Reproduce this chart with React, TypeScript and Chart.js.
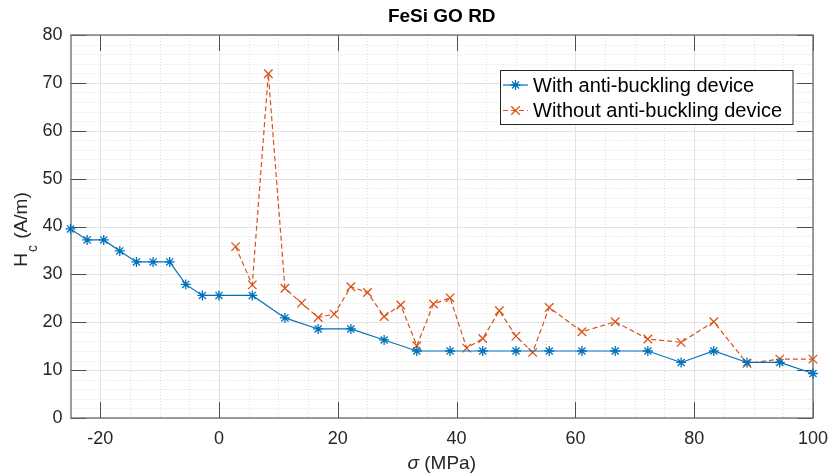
import React, { useEffect, useRef } from "react";
import { Chart, registerables } from "chart.js";

Chart.register(...registerables);

const titleText = "FeSi GO RD";
const seriesNames = ["With anti-buckling device", "Without anti-buckling device"];
const xTickValues = [-20, 0, 20, 40, 60, 80, 100];
const yTickValues = [0, 10, 20, 30, 40, 50, 60, 70, 80];

const withX = [-25, -22.2, -19.4, -16.7, -13.9, -11.1, -8.3, -5.6, -2.8, 0, 5.6, 11.1, 16.7, 22.2, 27.8, 33.3, 38.9, 44.4, 50, 55.6, 61.1, 66.7, 72.2, 77.8, 83.3, 88.9, 94.4, 100];
const withY = [39.5, 37.2, 37.2, 34.9, 32.6, 32.6, 32.6, 27.9, 25.6, 25.6, 25.6, 20.9, 18.6, 18.6, 16.3, 14.0, 14.0, 14.0, 14.0, 14.0, 14.0, 14.0, 14.0, 11.6, 14.0, 11.6, 11.6, 9.3];

const withoutX = [2.8, 5.6, 8.3, 11.1, 13.9, 16.7, 19.4, 22.2, 25, 27.8, 30.6, 33.3, 36.1, 38.9, 41.7, 44.4, 47.2, 50, 52.8, 55.6, 61.1, 66.7, 72.2, 77.8, 83.3, 88.9, 94.4, 100];
const withoutY = [35.8, 27.8, 71.9, 27.1, 24.0, 21.0, 21.7, 27.4, 26.2, 21.2, 23.6, 15.1, 23.8, 25.1, 14.6, 16.6, 22.4, 17.1, 13.7, 23.1, 18.0, 20.1, 16.5, 15.8, 20.1, 11.4, 12.3, 12.3];

const FONT = '"Liberation Sans", Arial, Helvetica, sans-serif';
const BLUE = "#0072BD";
const ORANGE = "#D95319";
const TEXT = "#262626";

function drawAsterisk(ctx: CanvasRenderingContext2D, x: number, y: number, r: number) {
  const d = r * Math.SQRT1_2;
  ctx.beginPath();
  ctx.moveTo(x - r, y); ctx.lineTo(x + r, y);
  ctx.moveTo(x, y - r); ctx.lineTo(x, y + r);
  ctx.moveTo(x - d, y - d); ctx.lineTo(x + d, y + d);
  ctx.moveTo(x - d, y + d); ctx.lineTo(x + d, y - d);
  ctx.stroke();
}
function drawX(ctx: CanvasRenderingContext2D, x: number, y: number, r: number) {
  const d = r * Math.SQRT1_2;
  ctx.beginPath();
  ctx.moveTo(x - d, y - d); ctx.lineTo(x + d, y + d);
  ctx.moveTo(x - d, y + d); ctx.lineTo(x + d, y - d);
  ctx.stroke();
}

const matlabPlugin = {
  id: "matlabAxes",
  beforeDatasetsDraw(chart: any) {
    const { ctx, chartArea: a, scales } = chart;
    const xs = scales.x, ys = scales.y;
    ctx.save();
    ctx.lineWidth = 1;
    // minor grid
    ctx.setLineDash([1, 2]);
    ctx.strokeStyle = "rgba(0,0,0,0.12)";
    for (let v = -20; v < 100; v += 5) {
      if (v % 20 === 0) continue;
      const px = Math.round(xs.getPixelForValue(v)) + 0.5;
      ctx.beginPath(); ctx.moveTo(px, a.top); ctx.lineTo(px, a.bottom); ctx.stroke();
    }
    for (let v = 2; v < 80; v += 2) {
      if (v % 10 === 0) continue;
      const py = Math.round(ys.getPixelForValue(v)) + 0.5;
      ctx.beginPath(); ctx.moveTo(a.left, py); ctx.lineTo(a.right, py); ctx.stroke();
    }
    // major grid
    ctx.setLineDash([]);
    ctx.strokeStyle = "#e2e2e2";
    for (const v of xTickValues) {
      const px = Math.round(xs.getPixelForValue(v)) + 0.5;
      ctx.beginPath(); ctx.moveTo(px, a.top); ctx.lineTo(px, a.bottom); ctx.stroke();
    }
    for (const v of yTickValues) {
      const py = Math.round(ys.getPixelForValue(v)) + 0.5;
      ctx.beginPath(); ctx.moveTo(a.left, py); ctx.lineTo(a.right, py); ctx.stroke();
    }
    // ticks (inward, all sides)
    ctx.strokeStyle = "#4d4d4d";
    const tl = 16;
    for (const v of xTickValues) {
      const px = Math.round(xs.getPixelForValue(v)) + 0.5;
      ctx.beginPath();
      ctx.moveTo(px, a.bottom); ctx.lineTo(px, a.bottom - tl);
      ctx.moveTo(px, a.top); ctx.lineTo(px, a.top + tl);
      ctx.stroke();
    }
    for (const v of yTickValues) {
      const py = Math.round(ys.getPixelForValue(v)) + 0.5;
      ctx.beginPath();
      ctx.moveTo(a.left, py); ctx.lineTo(a.left + tl, py);
      ctx.moveTo(a.right, py); ctx.lineTo(a.right - tl, py);
      ctx.stroke();
    }
    // box
    ctx.strokeStyle = "#6a6a6a";
    ctx.lineWidth = 1.3;
    ctx.strokeRect(Math.round(a.left), Math.round(a.top), Math.round(a.right) - Math.round(a.left), Math.round(a.bottom) - Math.round(a.top));
    ctx.restore();
  },
  afterDraw(chart: any) {
    const { ctx, chartArea: a } = chart;
    ctx.save();
    // title
    ctx.fillStyle = "#000";
    ctx.font = `bold 19px ${FONT}`;
    ctx.textAlign = "center";
    ctx.textBaseline = "alphabetic";
    ctx.fillText(titleText, (a.left + a.right) / 2, 22);

    // x label
    ctx.fillStyle = TEXT;
    const xl1 = "σ";
    const xl2 = " (MPa)";
    ctx.font = `italic 19px ${FONT}`;
    const w1 = ctx.measureText(xl1).width;
    ctx.font = `19px ${FONT}`;
    const w2 = ctx.measureText(xl2).width;
    const cx = (a.left + a.right) / 2;
    const sx = cx - (w1 + w2) / 2;
    ctx.textAlign = "left";
    ctx.font = `italic 19px ${FONT}`;
    ctx.fillText(xl1, sx, 469);
    ctx.font = `19px ${FONT}`;
    ctx.fillText(xl2, sx + w1, 469);

    // y label
    ctx.translate(27, (a.top + a.bottom) / 2 + 3);
    ctx.rotate(-Math.PI / 2);
    ctx.font = `19px ${FONT}`;
    const h = "H";
    const wh = ctx.measureText(h).width;
    ctx.font = `14px ${FONT}`;
    const wc = ctx.measureText("c").width;
    ctx.font = `19px ${FONT}`;
    const rest = " (A/m)";
    const wr = ctx.measureText(rest).width;
    const tot = wh + wc + 2 + wr;
    const s = -tot / 2;
    ctx.fillText(h, s, 0);
    ctx.font = `14px ${FONT}`;
    ctx.fillText("c", s + wh + 1, 10);
    ctx.font = `19px ${FONT}`;
    ctx.fillText(rest, s + wh + wc + 2, 0);
    ctx.setTransform(1, 0, 0, 1, 0, 0);

    // legend
    const lx = 500.5, ly = 70.5, lw = 292.5, lh = 54;
    ctx.fillStyle = "#fff";
    ctx.fillRect(lx, ly, lw, lh);
    ctx.strokeStyle = "#262626";
    ctx.lineWidth = 1;
    ctx.strokeRect(lx, ly, lw, lh);
    const rows = [85, 110.5];
    ctx.strokeStyle = BLUE;
    ctx.lineWidth = 1.2;
    ctx.setLineDash([]);
    ctx.beginPath(); ctx.moveTo(503, rows[0]); ctx.lineTo(528, rows[0]); ctx.stroke();
    ctx.lineWidth = 1.3;
    drawAsterisk(ctx, 515.5, rows[0], 5);
    ctx.strokeStyle = ORANGE;
    ctx.lineWidth = 1.2;
    ctx.setLineDash([5, 3]);
    ctx.beginPath(); ctx.moveTo(503, rows[1]); ctx.lineTo(528, rows[1]); ctx.stroke();
    ctx.setLineDash([]);
    ctx.lineWidth = 1.3;
    drawX(ctx, 515.5, rows[1], 6);
    ctx.fillStyle = "#000";
    ctx.font = `20px ${FONT}`;
    ctx.textAlign = "left";
    ctx.textBaseline = "middle";
    ctx.fillText(seriesNames[0], 533, rows[0] + 1);
    ctx.fillText(seriesNames[1], 533, rows[1] + 1);
    ctx.restore();
  },
};

export default function App() {
  const ref = useRef<HTMLCanvasElement | null>(null);
  useEffect(() => {
    if (!ref.current) return;
    const chart = new Chart(ref.current, {
      type: "line",
      data: {
        datasets: [
          {
            label: seriesNames[0],
            data: withX.map((x, i) => ({ x, y: withY[i] })),
            borderColor: BLUE,
            backgroundColor: BLUE,
            borderWidth: 1.2,
            pointStyle: "star",
            pointRadius: 5,
            pointBorderWidth: 1.3,
            pointBorderColor: BLUE,
            pointBackgroundColor: BLUE,
            tension: 0,
            clip: false,
          } as any,
          {
            label: seriesNames[1],
            data: withoutX.map((x, i) => ({ x, y: withoutY[i] })),
            borderColor: ORANGE,
            backgroundColor: ORANGE,
            borderWidth: 1.2,
            borderDash: [5, 3],
            pointStyle: "crossRot",
            pointRadius: 6,
            pointBorderWidth: 1.3,
            pointBorderColor: ORANGE,
            pointBackgroundColor: ORANGE,
            tension: 0,
            clip: false,
          } as any,
        ],
      },
      options: {
        animation: false,
        responsive: false,
        devicePixelRatio: 1,
        layout: { padding: { top: 35, right: 16.5, left: 0, bottom: 0 } },
        plugins: {
          legend: { display: false },
          title: { display: false },
          tooltip: { enabled: false },
        },
        scales: {
          x: {
            type: "linear",
            min: -25,
            max: 100,
            afterBuildTicks: (s: any) => {
              s.ticks = xTickValues.map((v) => ({ value: v }));
            },
            afterFit: (s: any) => {
              s.height = 57;
            },
            grid: { display: false, drawTicks: false },
            border: { display: false },
            ticks: {
              padding: 10,
              color: TEXT,
              font: { family: FONT, size: 18 },
              maxRotation: 0,
              autoSkip: false,
            },
          },
          y: {
            type: "linear",
            min: 0,
            max: 80,
            afterBuildTicks: (s: any) => {
              s.ticks = yTickValues.map((v) => ({ value: v }));
            },
            afterFit: (s: any) => {
              s.width = 70.5;
            },
            grid: { display: false, drawTicks: false },
            border: { display: false },
            ticks: {
              padding: 8,
              color: TEXT,
              font: { family: FONT, size: 18 },
              autoSkip: false,
            },
          },
        },
      } as any,
      plugins: [matlabPlugin],
    });
    return () => chart.destroy();
  }, []);
  return (
    <div style={{ position: "fixed", left: 0, top: 0, width: 838, height: 475, background: "#fff" }}>
      <canvas ref={ref} width={838} height={475} style={{ width: 838, height: 475, display: "block" }} />
    </div>
  );
}
